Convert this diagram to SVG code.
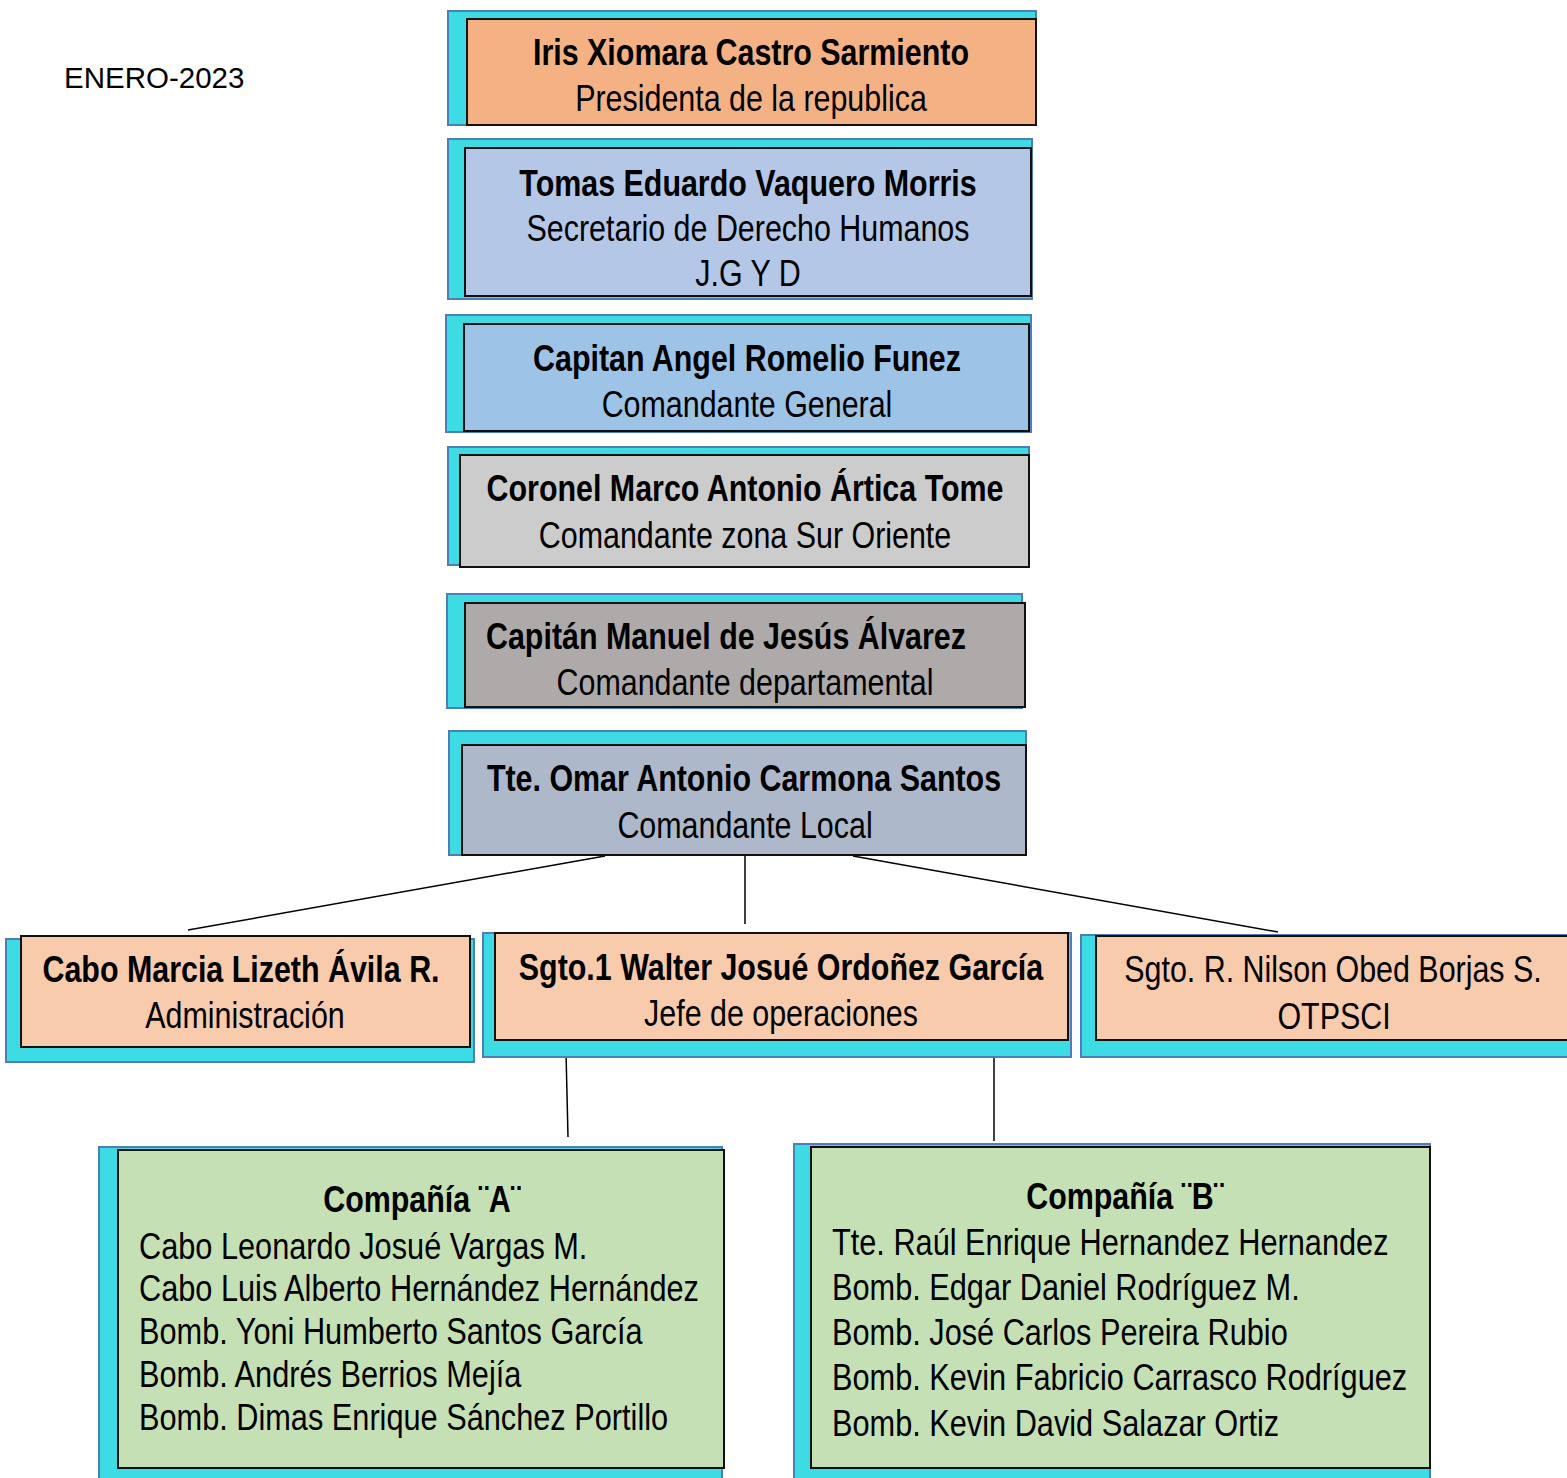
<svg xmlns="http://www.w3.org/2000/svg" width="1567" height="1478" viewBox="0 0 1567 1478">
<style>
.bk{fill:#3ddbe4;stroke:#4f7db5;stroke-width:2}
.fr{stroke:#111;stroke-width:2}
text{font-family:"Liberation Sans",Arial,sans-serif;font-size:37px;fill:#000}
.b{font-weight:bold}
.c{text-anchor:middle}
.cn{stroke:#000;stroke-width:1.5;fill:none}
</style>
<rect width="1567" height="1478" fill="#fff"/>
<text x="64" y="88" style="font-size:29.5px">ENERO-2023</text>
<g id="connectors">
<line class="cn" x1="605" y1="856" x2="188" y2="930"/>
<line class="cn" x1="745" y1="853" x2="745" y2="924"/>
<line class="cn" x1="853" y1="856" x2="1278" y2="932"/>
<line class="cn" x1="566" y1="1052" x2="568" y2="1137"/>
<line class="cn" x1="994" y1="1052" x2="994" y2="1141"/>
</g>
<g id="n-iris">
<rect class="bk" x="448" y="11" width="588" height="114"/>
<rect class="fr" x="467" y="19" width="569" height="106" fill="#f4b183"/>
<text class="b c" transform="matrix(0.822 0 0 1 751 0)" x="0" y="65">Iris Xiomara Castro Sarmiento</text>
<text class="c" transform="matrix(0.822 0 0 1 751 0)" x="0" y="111">Presidenta de la republica</text>
</g>
<g id="n-tomas">
<rect class="bk" x="448" y="139" width="584" height="160"/>
<rect class="fr" x="465" y="148" width="566" height="148" fill="#b4c7e7"/>
<text class="b c" transform="matrix(0.822 0 0 1 748 0)" x="0" y="196">Tomas Eduardo Vaquero Morris</text>
<text class="c" transform="matrix(0.822 0 0 1 748 0)" x="0" y="241">Secretario de Derecho Humanos</text>
<text class="c" transform="matrix(0.822 0 0 1 748 0)" x="0" y="286">J.G Y D</text>
</g>
<g id="n-angel">
<rect class="bk" x="446" y="315" width="585" height="117"/>
<rect class="fr" x="464" y="324" width="565" height="107" fill="#9dc3e6"/>
<text class="b c" transform="matrix(0.822 0 0 1 747 0)" x="0" y="371">Capitan Angel Romelio Funez</text>
<text class="c" transform="matrix(0.822 0 0 1 747 0)" x="0" y="417">Comandante General</text>
</g>
<g id="n-coronel">
<rect class="bk" x="448" y="447" width="581" height="118"/>
<rect class="fr" x="460" y="455" width="569" height="112" fill="#cccccc"/>
<text class="b c" transform="matrix(0.822 0 0 1 745 0)" x="0" y="501">Coronel Marco Antonio Ártica Tome</text>
<text class="c" transform="matrix(0.822 0 0 1 745 0)" x="0" y="548">Comandante zona Sur Oriente</text>
</g>
<g id="n-manuel">
<rect class="bk" x="447" y="594" width="575" height="114"/>
<rect class="fr" x="465" y="603" width="560" height="104" fill="#aeaaaa"/>
<text class="b" transform="matrix(0.822 0 0 1 486 0)" x="0" y="649">Capitán Manuel de Jesús Álvarez</text>
<text class="c" transform="matrix(0.822 0 0 1 745 0)" x="0" y="695">Comandante departamental</text>
</g>
<g id="n-omar">
<rect class="bk" x="449" y="731" width="577" height="124"/>
<rect class="fr" x="462" y="745" width="564" height="110" fill="#adb9ca"/>
<text class="b c" transform="matrix(0.822 0 0 1 744 0)" x="0" y="791">Tte. Omar Antonio Carmona Santos</text>
<text class="c" transform="matrix(0.822 0 0 1 745 0)" x="0" y="838">Comandante Local</text>
</g>
<g id="n-marcia">
<rect class="bk" x="6" y="939" width="468" height="123"/>
<rect class="fr" x="21" y="936" width="449" height="111" fill="#f8cbad"/>
<text class="b c" transform="matrix(0.822 0 0 1 241 0)" x="0" y="982">Cabo Marcia Lizeth Ávila R.</text>
<text class="c" transform="matrix(0.822 0 0 1 245 0)" x="0" y="1028">Administración</text>
</g>
<g id="n-walter">
<rect class="bk" x="483" y="933" width="588" height="124"/>
<rect class="fr" x="495" y="933" width="573" height="107" fill="#f8cbad"/>
<text class="b c" transform="matrix(0.822 0 0 1 781 0)" x="0" y="980">Sgto.1 Walter Josué Ordoñez García</text>
<text class="c" transform="matrix(0.822 0 0 1 781 0)" x="0" y="1026">Jefe de operaciones</text>
</g>
<g id="n-nilson">
<rect class="bk" x="1081" y="935" width="490" height="122"/>
<rect class="fr" x="1096" y="936" width="475" height="104" fill="#f8cbad"/>
<text class="c" transform="matrix(0.822 0 0 1 1333 0)" x="0" y="982">Sgto. R. Nilson Obed Borjas S.</text>
<text class="c" transform="matrix(0.822 0 0 1 1334 0)" x="0" y="1029">OTPSCI</text>
</g>
<g id="n-compA">
<rect class="bk" x="99" y="1147" width="623" height="335"/>
<rect class="fr" x="118" y="1150" width="606" height="318" fill="#c5e0b4"/>
<text class="b c" transform="matrix(0.822 0 0 1 422 0)" x="0" y="1212">Compañía ¨A¨</text>
<g transform="matrix(0.83 0 0 1 139 0)">
<text x="0" y="1259">Cabo Leonardo Josué Vargas M.</text>
<text x="0" y="1301">Cabo Luis Alberto Hernández Hernández</text>
<text x="0" y="1344">Bomb. Yoni Humberto Santos García</text>
<text x="0" y="1387">Bomb. Andrés Berrios Mejía</text>
<text x="0" y="1430">Bomb. Dimas Enrique Sánchez Portillo</text>
</g>
</g>
<g id="n-compB">
<rect class="bk" x="794" y="1144" width="636" height="338"/>
<rect class="fr" x="811" y="1147" width="619" height="321" fill="#c5e0b4"/>
<text class="b c" transform="matrix(0.822 0 0 1 1125 0)" x="0" y="1209">Compañía ¨B¨</text>
<g transform="matrix(0.83 0 0 1 832 0)">
<text x="0" y="1255">Tte. Raúl Enrique Hernandez Hernandez</text>
<text x="0" y="1300">Bomb. Edgar Daniel Rodríguez M.</text>
<text x="0" y="1345">Bomb. José Carlos Pereira Rubio</text>
<text x="0" y="1390">Bomb. Kevin Fabricio Carrasco Rodríguez</text>
<text x="0" y="1436">Bomb. Kevin David Salazar Ortiz</text>
</g>
</g>
</svg>
